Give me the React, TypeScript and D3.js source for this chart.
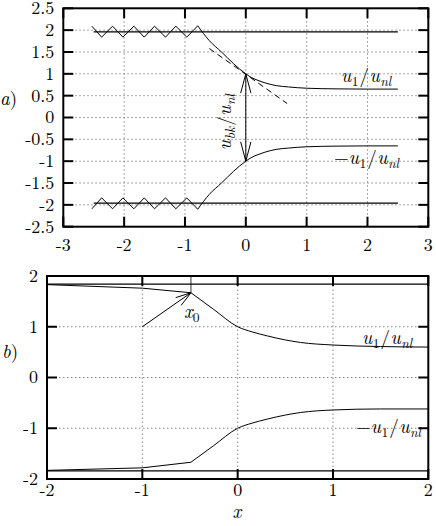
import React from "react";
import * as d3 from "d3";

// ---------- Panel a) data ----------
const aXTicks = [-3, -2, -1, 0, 1, 2, 3];
const aYTicks = [-2.5, -2, -1.5, -1, -0.5, 0, 0.5, 1, 1.5, 2, 2.5];
const aXGrid = [-2, -1, 0, 1, 2];
const aYGrid = [-2, -1.5, -1, -0.5, 0, 0.5, 1, 1.5, 2];

const aRailX = [-2.5, 2.5];
const aRailUpperY = [1.96, 1.96];
const aRailLowerY = [-1.96, -1.96];

const aZigX = [-2.53, -2.37, -2.19, -2.02, -1.84, -1.67, -1.5, -1.32, -1.15, -0.97, -0.79];
const aZigUpperY = [2.09, 1.84, 2.09, 1.84, 2.09, 1.84, 2.09, 1.84, 2.09, 1.84, 2.1];
const aZigLowerY = [-2.09, -1.84, -2.09, -1.84, -2.09, -1.84, -2.09, -1.84, -2.09, -1.84, -2.1];

const aSmoothX = [-0.79, -0.6, -0.4, -0.2, 0, 0.1, 0.2, 0.3, 0.4, 0.5, 0.7, 1.0, 1.5, 2.0, 2.5];
const aSmoothUpperY = [2.1, 1.76, 1.5, 1.23, 1.0, 0.91, 0.85, 0.8, 0.76, 0.73, 0.7, 0.67, 0.655, 0.65, 0.65];
const aSmoothLowerY = [-2.1, -1.76, -1.5, -1.23, -1.0, -0.91, -0.85, -0.8, -0.76, -0.73, -0.7, -0.67, -0.655, -0.65, -0.65];

const aTangentX = [-0.6, 0.68];
const aTangentY = [1.58, 0.32];

const aArrowX = 0;
const aArrowY = [1, -1];

// ---------- Panel b) data ----------
const bXTicks = [-2, -1, 0, 1, 2];
const bYTicks = [-2, -1, 0, 1, 2];
const bXGrid = [-1, 0, 1];
const bYGrid = [-1, 0, 1];

const bRailX = [-2, 2];
const bRailUpperY = [1.84, 1.84];
const bRailLowerY = [-1.84, -1.84];

const bLeftX = [-2, -1, -0.49];
const bLeftUpperY = [1.83, 1.76, 1.67];
const bLeftLowerY = [-1.83, -1.78, -1.67];

const bRightX = [-0.49, -0.25, 0, 0.15, 0.31, 0.5, 0.66, 1, 1.5, 2];
const bRightUpperY = [1.67, 1.34, 1.0, 0.9, 0.82, 0.74, 0.69, 0.64, 0.61, 0.6];
const bRightLowerY = [-1.67, -1.34, -1.0, -0.9, -0.82, -0.74, -0.69, -0.64, -0.62, -0.62];

const bX0 = [-0.49, 1.67];
const bArrowFrom = [-1, 1];

const SERIF = '"Latin Modern Roman", "CMU Serif", "Liberation Serif", serif';

function zip(xs: number[], ys: number[]): [number, number][] {
  return xs.map((x, i) => [x, ys[i]]);
}

function OpenHead({ tip, from, len = 14, half = 0.33 }: { tip: [number, number]; from: [number, number]; len?: number; half?: number }) {
  const ang = Math.atan2(from[1] - tip[1], from[0] - tip[0]);
  const p1 = [tip[0] + len * Math.cos(ang + half), tip[1] + len * Math.sin(ang + half)];
  const p2 = [tip[0] + len * Math.cos(ang - half), tip[1] + len * Math.sin(ang - half)];
  return (
    <path d={`M${p1[0]},${p1[1]}L${tip[0]},${tip[1]}L${p2[0]},${p2[1]}`} fill="none" stroke="#000" strokeWidth={1} />
  );
}

function fmt(v: number) {
  return String(v);
}

function ULabel({ x, y, minus, sub, fs, sfs, anchor, transform }: { x?: number; y?: number; minus?: boolean; sub: string; fs: number; sfs: number; anchor?: string; transform?: string }) {
  const subUpright = sub === "1";
  return (
    <text x={x} y={y} transform={transform} textAnchor={anchor} style={{ fontFamily: SERIF, fontSize: fs }} fontStyle="italic">
      {minus ? <tspan fontStyle="normal">−</tspan> : null}
      <tspan>u</tspan>
      <tspan fontStyle={subUpright ? "normal" : "italic"} fontSize={sfs} dy={4} dx={0.5}>{sub}</tspan>
      <tspan fontStyle="normal" dy={-4} dx={1}>/</tspan>
      <tspan dx={0.5}>u</tspan>
      <tspan fontSize={sfs} dy={4} dx={0.5}>nl</tspan>
    </text>
  );
}

export default function App() {
  const xA = d3.scaleLinear().domain([-3, 3]).range([63.3, 428.3]);
  const yA = d3.scaleLinear().domain([-2.5, 2.5]).range([226.7, 8.3]);
  const xB = d3.scaleLinear().domain([-2, 2]).range([47, 428.3]);
  const yB = d3.scaleLinear().domain([-2, 2]).range([479, 276]);

  const linA = d3.line<[number, number]>().x((d) => xA(d[0])).y((d) => yA(d[1]));
  const smA = d3.line<[number, number]>().x((d) => xA(d[0])).y((d) => yA(d[1])).curve(d3.curveMonotoneX);
  const linB = d3.line<[number, number]>().x((d) => xB(d[0])).y((d) => yB(d[1]));
  const smB = d3.line<[number, number]>().x((d) => xB(d[0])).y((d) => yB(d[1])).curve(d3.curveMonotoneX);

  const gridStyle = { stroke: "#7a7a7a", strokeWidth: 0.9, strokeDasharray: "1.5,2.5" } as const;
  const tickLen = 10;
  const fs = 18;
  const mfs = 19;
  const sfs = 13.5;
  const tStyle = { fontFamily: SERIF, fontSize: fs };

  const [ax0, ax1] = xA.range();
  const [ay0, ay1] = [yA(-2.5), yA(2.5)];
  const [bx0, bx1] = xB.range();
  const [by0, by1] = [yB(-2), yB(2)];

  return (
    <svg width={436} height={526} style={{ position: "absolute", left: 0, top: 0, background: "#fff", fontFamily: SERIF }}>
      {/* ================= Panel a ================= */}
      <g>
        {aYGrid.map((v) => (
          <line key={"ayg" + v} x1={ax0} x2={ax1} y1={yA(v)} y2={yA(v)} {...gridStyle} />
        ))}
        {aXGrid.map((v) => (
          <line key={"axg" + v} x1={xA(v)} x2={xA(v)} y1={ay0} y2={ay1} {...gridStyle} />
        ))}

        <path d={linA(zip(aRailX, aRailUpperY)) || ""} fill="none" stroke="#000" strokeWidth={1.2} />
        <path d={linA(zip(aRailX, aRailLowerY)) || ""} fill="none" stroke="#000" strokeWidth={1.2} />
        <path d={linA(zip(aZigX, aZigUpperY)) || ""} fill="none" stroke="#000" strokeWidth={1} />
        <path d={linA(zip(aZigX, aZigLowerY)) || ""} fill="none" stroke="#000" strokeWidth={1} />
        <path d={smA(zip(aSmoothX, aSmoothUpperY)) || ""} fill="none" stroke="#000" strokeWidth={1} />
        <path d={smA(zip(aSmoothX, aSmoothLowerY)) || ""} fill="none" stroke="#000" strokeWidth={1} />
        <path d={linA(zip(aTangentX, aTangentY)) || ""} fill="none" stroke="#000" strokeWidth={1} strokeDasharray="6,4" />

        <line x1={xA(aArrowX)} x2={xA(aArrowX)} y1={yA(aArrowY[0])} y2={yA(aArrowY[1])} stroke="#000" strokeWidth={1} />
        <OpenHead tip={[xA(aArrowX), yA(aArrowY[0])]} from={[xA(aArrowX), yA(aArrowY[1])]} len={20} half={0.26} />
        <OpenHead tip={[xA(aArrowX), yA(aArrowY[1])]} from={[xA(aArrowX), yA(aArrowY[0])]} len={20} half={0.26} />

        <rect x={ax0} y={ay1} width={ax1 - ax0} height={ay0 - ay1} fill="none" stroke="#000" strokeWidth={2} />
        {aYTicks.map((v) => (
          <g key={"ayt" + v}>
            <line x1={ax0} x2={ax0 + tickLen} y1={yA(v)} y2={yA(v)} stroke="#000" strokeWidth={2} />
            <line x1={ax1} x2={ax1 - tickLen} y1={yA(v)} y2={yA(v)} stroke="#000" strokeWidth={2} />
            <text x={ax0 - 9} y={yA(v)} dy="0.33em" textAnchor="end" style={tStyle}>
              {fmt(v)}
            </text>
          </g>
        ))}
        {aXTicks.map((v) => (
          <g key={"axt" + v}>
            <line x1={xA(v)} x2={xA(v)} y1={ay0} y2={ay0 - tickLen} stroke="#000" strokeWidth={2} />
            <line x1={xA(v)} x2={xA(v)} y1={ay1} y2={ay1 + tickLen} stroke="#000" strokeWidth={2} />
            <text x={xA(v)} y={251} textAnchor="middle" style={tStyle}>
              {fmt(v)}
            </text>
          </g>
        ))}

        <ULabel x={341} y={82} sub="1" fs={mfs} sfs={sfs} />
        <ULabel x={334} y={164} minus sub="1" fs={mfs} sfs={sfs} />
        <ULabel transform="translate(231,122) rotate(-90)" anchor="middle" sub="bk" fs={mfs} sfs={sfs} />
        <text x={0} y={105} style={{ fontFamily: SERIF, fontSize: mfs }}>
          <tspan fontStyle="italic">a</tspan>
          <tspan>)</tspan>
        </text>
      </g>

      {/* ================= Panel b ================= */}
      <g>
        {bYGrid.map((v) => (
          <line key={"byg" + v} x1={bx0} x2={bx1} y1={yB(v)} y2={yB(v)} {...gridStyle} />
        ))}
        {bXGrid.map((v) => (
          <line key={"bxg" + v} x1={xB(v)} x2={xB(v)} y1={by0} y2={by1} {...gridStyle} />
        ))}

        <path d={linB(zip(bRailX, bRailUpperY)) || ""} fill="none" stroke="#000" strokeWidth={1.2} />
        <path d={linB(zip(bRailX, bRailLowerY)) || ""} fill="none" stroke="#000" strokeWidth={1.2} />
        <path d={linB(zip(bLeftX, bLeftUpperY)) || ""} fill="none" stroke="#000" strokeWidth={1} />
        <path d={linB(zip(bLeftX, bLeftLowerY)) || ""} fill="none" stroke="#000" strokeWidth={1} />
        <path d={smB(zip(bRightX, bRightUpperY)) || ""} fill="none" stroke="#000" strokeWidth={1} />
        <path d={smB(zip(bRightX, bRightLowerY)) || ""} fill="none" stroke="#000" strokeWidth={1} />

        <line x1={xB(bX0[0])} x2={xB(bX0[0])} y1={yB(bX0[1])} y2={by1} stroke="#000" strokeWidth={0.8} />
        <line x1={xB(bArrowFrom[0])} y1={yB(bArrowFrom[1])} x2={xB(bX0[0])} y2={yB(bX0[1])} stroke="#000" strokeWidth={1} />
        <OpenHead tip={[xB(bX0[0]), yB(bX0[1])]} from={[xB(bArrowFrom[0]), yB(bArrowFrom[1])]} len={16} half={0.3} />

        <rect x={bx0} y={by1} width={bx1 - bx0} height={by0 - by1} fill="none" stroke="#000" strokeWidth={2} />
        {bYTicks.map((v) => (
          <g key={"byt" + v}>
            <line x1={bx0} x2={bx0 + tickLen} y1={yB(v)} y2={yB(v)} stroke="#000" strokeWidth={2} />
            <line x1={bx1} x2={bx1 - tickLen} y1={yB(v)} y2={yB(v)} stroke="#000" strokeWidth={2} />
            <text x={bx0 - 9} y={yB(v)} dy="0.33em" textAnchor="end" style={tStyle}>
              {fmt(v)}
            </text>
          </g>
        ))}
        {bXTicks.map((v) => (
          <g key={"bxt" + v}>
            <line x1={xB(v)} x2={xB(v)} y1={by0} y2={by0 - tickLen} stroke="#000" strokeWidth={2} />
            <line x1={xB(v)} x2={xB(v)} y1={by1} y2={by1 + tickLen} stroke="#000" strokeWidth={2} />
            <text x={xB(v)} y={496} textAnchor="middle" style={tStyle}>
              {fmt(v)}
            </text>
          </g>
        ))}

        <ULabel x={362} y={344} sub="1" fs={mfs} sfs={sfs} />
        <ULabel x={356} y={433} minus sub="1" fs={mfs} sfs={sfs} />
        <text x={184} y={318} style={{ fontFamily: SERIF, fontSize: mfs }} fontStyle="italic">
          <tspan>x</tspan>
          <tspan fontStyle="normal" fontSize={sfs} dy={4}>0</tspan>
        </text>
        <text x={237} y={518} style={{ fontFamily: SERIF, fontSize: mfs }} fontStyle="italic" textAnchor="middle">
          x
        </text>
        <text x={2} y={358} style={{ fontFamily: SERIF, fontSize: mfs }}>
          <tspan fontStyle="italic">b</tspan>
          <tspan>)</tspan>
        </text>
      </g>
    </svg>
  );
}
